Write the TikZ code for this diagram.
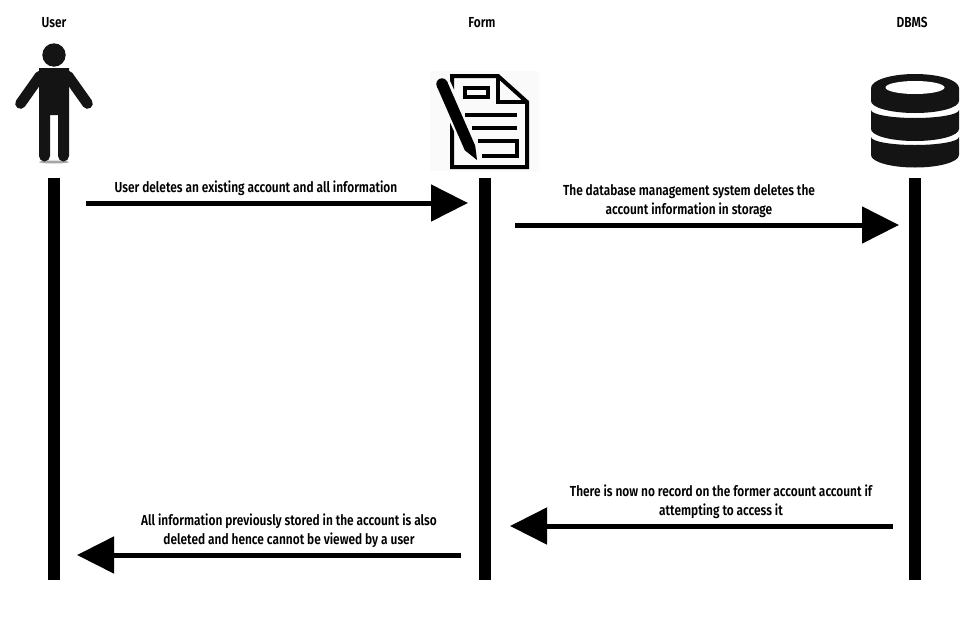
\documentclass[tikz,border=0pt]{standalone}
\usepackage{fontspec}
\setmainfont[FakeStretch=0.82]{Fira Sans SemiBold}
\usetikzlibrary{arrows.meta}
\tikzset{
  x=0.75pt,y=-0.75pt,
  lifeline/.style={fill=black,draw=none,minimum width=9pt,minimum height=301.5pt,inner sep=0pt},
  msg/.style={line width=3.75pt,-{Triangle[length=27.75pt,width=27pt]}},
  lbl/.style={align=center,font=\fontsize{10.9pt}{14.6pt}\selectfont,text=black,inner sep=0pt},
  ink/.style={fill=black!92,draw=none},
  docline/.style={draw=black,line width=2.5pt},
}
\begin{document}
\begin{tikzpicture}
\useasboundingbox (0,0) rectangle (974,629);
\fill[white] (0,0) rectangle (974,629);
% titles
\node[lbl] (tu) at (54,23) {User};
\node[lbl] (tf) at (482,23) {Form};
\node[lbl] (td) at (912,22) {DBMS};
% lifelines
\node[lifeline] (lu) at (54,379) {};
\node[lifeline] (lf) at (484.5,379) {};
\node[lifeline] (ld) at (915,379) {};
% user icon
\fill[black!35] (54,162) ellipse (15 and 1.5);
\fill[ink] (54,55) circle (11.7);
\draw[black!92,line width=8pt,line cap=round] (40,76) -- (20.5,103.5);
\draw[black!92,line width=8pt,line cap=round] (68,76) -- (87.5,103.5);
\fill[ink] (39,68) -- (69,68) -- (69,156) arc (0:180:5.5) -- (58,115) -- (50,115) -- (50,156) arc (0:180:5.5) -- cycle;
% form icon
\fill[black!2] (430,71) rectangle (539,171);
\draw[black,line width=3pt,miter limit=3] (452,76) -- (498,76) -- (527,102) -- (527,167) -- (452,167) -- cycle;
\draw[black!2,line width=13pt] (440,80) -- (476,158);
\draw[docline] (498,76) -- (498,102) -- (527,102);
\draw[docline] (465,88) rectangle (488,97);
\draw[docline] (465,115) -- (517,115);
\draw[docline] (472,128) -- (517,128);
\draw[docline] (478,141) -- (517,141) -- (517,156) -- (482,156);
\fill[black] (442,84) circle (5.7);
\fill[black] (436.8,86.3) -- (447.2,81.7) -- (475.2,145.7) -- (477,160) -- (464.8,150.3) -- cycle;
% database icon
\fill[ink] (871,88) arc (180:360:44 and 14) -- (959,101) arc (0:180:44 and 12) -- cycle;
\fill[white] (915,87.5) ellipse (29.5 and 6.5);
\fill[ink] (871,110) arc (180:0:44 and 8) -- (959,129) arc (0:180:44 and 12) -- cycle;
\fill[ink] (871,137) arc (180:0:44 and 8) -- (959,155) arc (0:180:44 and 12.5) -- cycle;
% arrow ends
\path (86,203) coordinate (a1s) (468,203) coordinate (a1e);
\path (515,225) coordinate (a2s) (899,225) coordinate (a2e);
\path (893,526) coordinate (a3s) (510,526) coordinate (a3e);
\path (461,555) coordinate (a4s) (77,555) coordinate (a4e);
\draw[msg] (a1s) -- (a1e);
\draw[msg] (a2s) -- (a2e);
\draw[msg] (a3s) -- (a3e);
\draw[msg] (a4s) -- (a4e);
% labels
\node[lbl] (m1) at (256,188) {User deletes an existing account and all information};
\node[lbl] (m2) at (689,201) {The database management system deletes the\\account information in storage};
\node[lbl] (m3) at (721,502) {There is now no record on the former account account if\\attempting to access it};
\node[lbl] (m4) at (289,531) {All information previously stored in the account is also\\deleted and hence cannot be viewed by a user};
\end{tikzpicture}
\end{document}
